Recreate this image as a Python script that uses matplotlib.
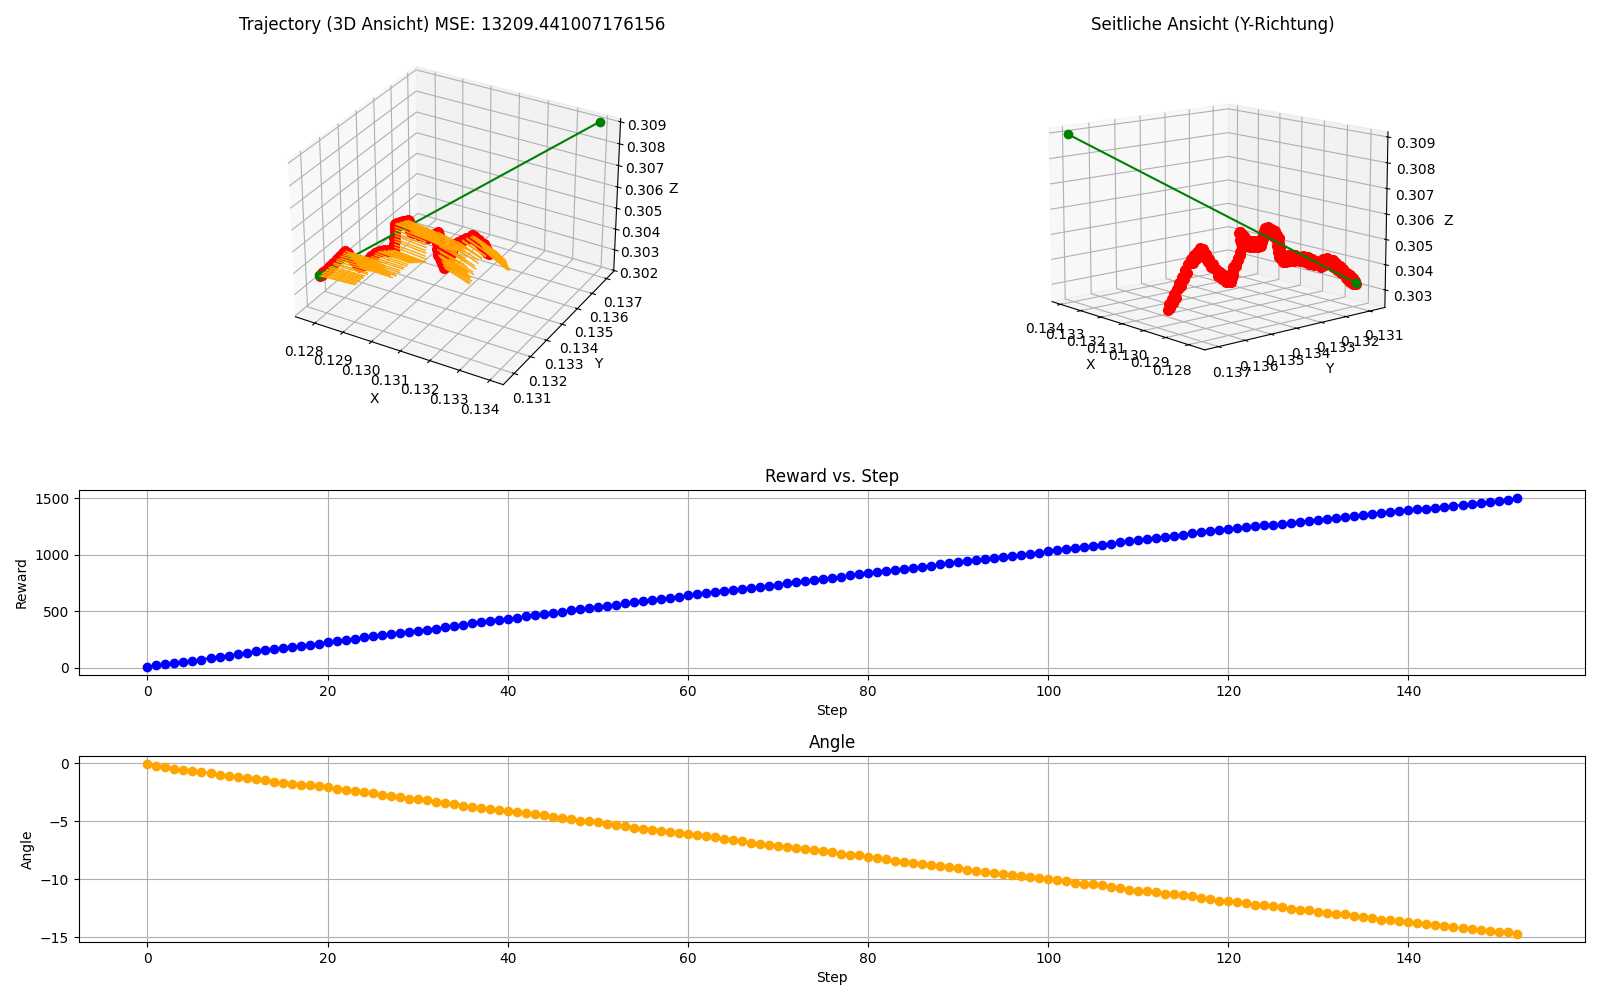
import numpy as np
import matplotlib
matplotlib.use("Agg")
import matplotlib.pyplot as plt

reward = [10,20,33,43,53,63,72,88,98,108,118,128,145,155,165,172,182,195,205,214,
225,235,245,258,270,278,287,297,308,320,328,338,347,358,372,382,392,403,415,424,
434,444,455,465,475,488,497,507,517,530,540,549,559,569,580,590,600,610,620,630,
640,650,660,670,680,690,700,708,717,727,735,748,758,767,777,787,797,808,818,828,
838,847,857,867,877,885,895,905,915,925,934,943,952,960,970,982,990,1001,1011,1020,
1030,1040,1050,1063,1073,1082,1090,1100,1110,1122,1132,1142,1150,1160,1168,1180,1190,1200,1210,1220,
1230,1236,1245,1253,1261,1268,1272,1280,1290,1300,1310,1318,1327,1335,1343,1352,1360,1368,1377,1387,
1395,1402,1410,1418,1426,1434,1442,1450,1458,1466,1475,1487,1500]

angle = [-0.1,-0.2,-0.35,-0.45,-0.55,-0.65,-0.75,-0.85,-1.0,-1.1,-1.15,-1.25,-1.35,-1.45,-1.6,-1.7,-1.75,-1.85,-1.9,-1.95,
-2.05,-2.2,-2.3,-2.4,-2.5,-2.6,-2.7,-2.85,-2.95,-3.05,-3.1,-3.2,-3.3,-3.4,-3.55,-3.65,-3.75,-3.85,-3.95,-4.0,
-4.1,-4.2,-4.3,-4.4,-4.5,-4.6,-4.7,-4.85,-4.95,-5.0,-5.1,-5.2,-5.3,-5.4,-5.55,-5.65,-5.75,-5.85,-5.9,-6.0,
-6.1,-6.2,-6.3,-6.4,-6.5,-6.6,-6.7,-6.85,-6.95,-7.05,-7.1,-7.2,-7.3,-7.4,-7.5,-7.6,-7.7,-7.8,-7.9,-7.95,
-8.05,-8.2,-8.3,-8.4,-8.5,-8.6,-8.7,-8.75,-8.85,-8.95,-9.05,-9.2,-9.3,-9.4,-9.5,-9.55,-9.65,-9.7,-9.8,-9.9,
-10.0,-10.1,-10.2,-10.3,-10.4,-10.45,-10.55,-10.65,-10.8,-10.9,-11.0,-11.05,-11.15,-11.25,-11.3,-11.4,-11.5,-11.65,-11.75,-11.85,
-11.9,-11.95,-12.1,-12.2,-12.25,-12.35,-12.45,-12.55,-12.65,-12.7,-12.8,-12.9,-13.0,-13.05,-13.15,-13.25,-13.4,-13.5,-13.55,-13.65,
-13.7,-13.8,-13.9,-13.95,-14.05,-14.15,-14.25,-14.3,-14.4,-14.5,-14.55,-14.6,-14.7]

traj_x = [.12759,
.12770,.12760,.12772,.12768,.12780,.12771,.12788,.12776,.12786,
.12798,.12786,.12803,.12792,.12810,.12799,.12815,.12805,.12814,
.12830,.12818,.12845,.12833,.12858,.12846,.12872,.12860,.12877,
.12888,.12875,.12893,.12880,.12896,.12886,.12902,.12890,.12899,
.12912,.12898,.12920,.12905,.12928,.12914,.12935,.12922,.12934,
.12938,.12925,.12935,.12922,.12934,.12920,.12930,.12918,.12923,
.12936,.12922,.12944,.12930,.12950,.12938,.12957,.12946,.12958,
.12966,.12952,.12967,.12953,.12968,.12955,.12969,.12956,.12963,
.12978,.12968,.12994,.12984,.13008,.12998,.13022,.13020,
.13032,.13020,.13040,.13028,.13047,.13036,.13055,.13051,
.13062,.13050,.13068,.13056,.13074,.13062,.13082,.13076,
.13080,.13065,.13074,.13058,.13068,.13052,.13060,.13051,
.13060,.13045,.13060,.13046,.13061,.13046,.13062,.13054,
.13062,.13046,.13060,.13045,.13059,.13043,.13058,.13050,
.13066,.13058,.13081,.13073,.13098,.13088,.13112,.13112,
.13122,.13109,.13125,.13112,.13130,.13116,.13134,.13128,
.13134,.13114,.13126,.13108,.13119,.13100,.13112,.13101,
.13106,.13090,.13102,.13087,.13099,.13084,.13096,.13087]

traj_y = [.13129,
.13125,.13140,.13130,.13146,.13134,.13150,.13138,.13154,.13149,
.13148,.13166,.13156,.13176,.13164,.13186,.13174,.13194,.13191,
.13182,.13194,.13176,.13190,.13171,.13186,.13166,.13180,.13170,
.13172,.13192,.13186,.13208,.13200,.13222,.13214,.13238,.13237,
.13235,.13252,.13242,.13262,.13250,.13272,.13258,.13278,.13275,
.13271,.13290,.13277,.13296,.13282,.13302,.13288,.13306,.13301,
.13296,.13312,.13298,.13316,.13302,.13320,.13304,.13322,.13316,
.13311,.13326,.13312,.13330,.13314,.13333,.13317,.13335,.13328,
.13322,.13337,.13323,.13338,.13324,.13339,.13325,.13332,
.13327,.13341,.13328,.13343,.13328,.13344,.13330,.13337,
.13326,.13336,.13316,.13326,.13306,.13314,.13296,.13296,
.13298,.13320,.13314,.13335,.13328,.13350,.13342,.13357,
.13352,.13368,.13355,.13372,.13358,.13375,.13361,.13370,
.13372,.13394,.13389,.13410,.13405,.13427,.13422,.13436,
.13430,.13444,.13430,.13444,.13429,.13443,.13428,.13435,
.13433,.13450,.13441,.13458,.13449,.13466,.13456,.13467,
.13470,.13490,.13487,.13508,.13505,.13526,.13522,.13537,
.13537,.13555,.13550,.13568,.13562,.13580,.13575,.13587]

traj_z = [.30335,
.30346,.30338,.30356,.30346,.30366,.30354,.30374,.30363,.30376,
.30390,.30380,.30402,.30392,.30414,.30404,.30426,.30416,.30430,
.30434,.30414,.30426,.30406,.30420,.30400,.30410,.30392,.30396,
.30408,.30396,.30416,.30404,.30424,.30412,.30431,.30418,.30430,
.30438,.30420,.30436,.30420,.30435,.30418,.30434,.30417,.30424,
.30443,.30438,.30466,.30460,.30488,.30482,.30510,.30506,.30526,
.30536,.30521,.30541,.30526,.30545,.30530,.30550,.30535,.30546,
.30547,.30524,.30533,.30510,.30520,.30496,.30506,.30482,.30485,
.30493,.30474,.30490,.30472,.30489,.30471,.30487,.30478,
.30491,.30479,.30500,.30487,.30507,.30495,.30516,.30512,
.30511,.30487,.30494,.30470,.30477,.30452,.30460,.30444,
.30443,.30418,.30426,.30402,.30409,.30384,.30392,.30376,
.30377,.30354,.30364,.30341,.30350,.30327,.30337,.30322,
.30337,.30330,.30354,.30346,.30370,.30362,.30386,.30388,
.30404,.30396,.30420,.30412,.30436,.30428,.30452,.30454,
.30455,.30432,.30442,.30418,.30428,.30404,.30415,.30400,
.30398,.30371,.30377,.30350,.30357,.30330,.30336,.30318,
.30318,.30292,.30301,.30276,.30284,.30259,.30268,.30252]

line_x = [.12759, .13390]
line_y = [.13129, .13720]
line_z = [.30340, .30900]

steps = np.arange(len(reward))
fig = plt.figure(figsize=(16, 10), dpi=100)
W, H = 1600, 1000

def rect(l, t, r, b):
    return [l / W, 1 - b / H, (r - l) / W, (b - t) / H]

ax1 = fig.add_axes(rect(80, 38, 825, 408), projection="3d")
ax2 = fig.add_axes(rect(840, 38, 1585, 408), projection="3d")

heading = np.radians(5 + 2.3 * np.array(angle))
ax1.plot(traj_x, traj_y, traj_z, "o-", color="red", markersize=7)
ax1.quiver(traj_x, traj_y, traj_z, np.cos(heading), np.sin(heading), np.zeros_like(heading),
           length=0.0012, color="orange", arrow_length_ratio=0, linewidth=1)
ax2.plot(traj_x, traj_y, traj_z, "o-", color="red", markersize=7)
for ax in (ax1, ax2):
    ax.plot(line_x, line_y, line_z, "o-", color="green", markersize=6)
    ax.set_xlabel("X")
    ax.set_ylabel("Y")
    ax.set_zlabel("Z")
    ax.set_xlim(0.1273, 0.13444)
    ax.set_ylim(0.13035, 0.1375)
ax1.set_zlim(0.30195, 0.30915)
ax2.set_zlim(0.30230, 0.30920)
ax1.set_title("Trajectory (3D Ansicht) MSE: 13209.441007176156")
ax2.set_title("Seitliche Ansicht (Y-Richtung)")
ax2.view_init(elev=12, azim=139)

ax3 = fig.add_axes(rect(79, 490, 1585, 675))
ax3.plot(steps, reward, "o-", color="blue")
ax3.set_title("Reward vs. Step")
ax3.set_xlabel("Step")
ax3.set_ylabel("Reward")
ax3.grid(True)

ax4 = fig.add_axes(rect(79, 756, 1585, 942))
ax4.plot(steps, angle, "o-", color="orange")
ax4.set_title("Angle")
ax4.set_xlabel("Step")
ax4.set_ylabel("Angle")
ax4.grid(True)

fig.savefig("out.png", dpi=100)
